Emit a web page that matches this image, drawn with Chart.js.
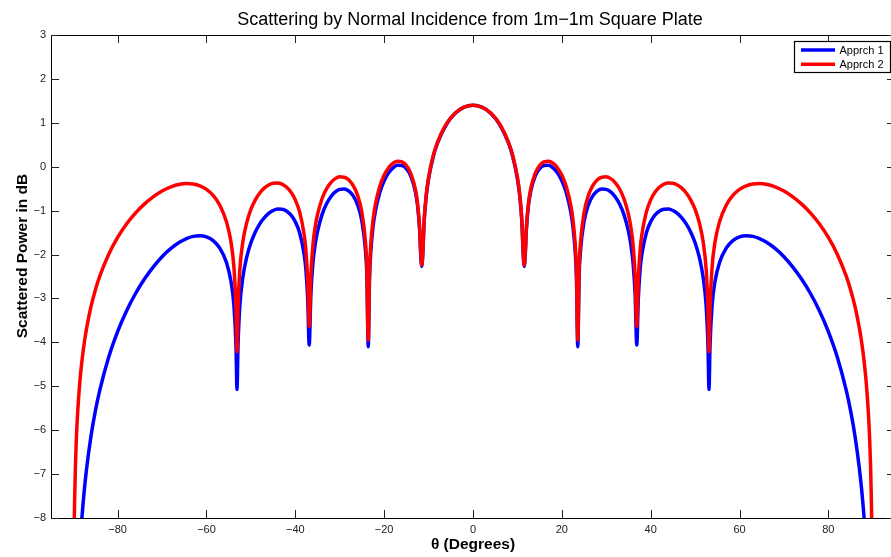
<!DOCTYPE html>
<html>
<head>
<meta charset="utf-8">
<script src="https://cdn.jsdelivr.net/npm/chart.js@4.4.1/dist/chart.umd.min.js"></script>
<style>
	html, body { margin: 0; padding: 0; background: #fff; overflow: hidden; }
	canvas { display: block; }
</style>
</head>
<body>
<canvas id="plateChart" width="905" height="557"></canvas>
<script>
// Values (theta in degrees, power in dB)
const theta = [
	-89.8, -89.7, -89.5, -89.3, -89, -88.5, -88, -87.5, -87, -86,
	-85, -84, -82, -80, -78, -76, -74, -72, -70, -68,
	-66, -64.5, -63, -61.5, -60, -58.5, -57, -55.5, -54.5, -53.8,
	-53.35, -53.13, -52.9, -52.5, -51.8, -51, -50, -49, -48, -47,
	-46, -45, -44, -43, -42, -41, -40, -39, -38, -37.6,
	-37.2, -36.87, -36.5, -36, -35.5, -35, -34, -33, -32, -31,
	-30, -29, -28, -27, -26, -25, -24.2, -23.9, -23.58, -23.3,
	-23, -22.5, -22, -21, -20, -19, -18, -17, -16, -15,
	-14, -13, -12.5, -12, -11.8, -11.54, -11.3, -11, -10.5, -10,
	-9, -8, -6, -4, -2,
	0,
	2, 4, 6, 8, 9, 10, 10.5, 11, 11.3, 11.54,
	11.8, 12, 12.5, 13, 14, 15, 16, 17, 18, 19,
	20, 21, 22, 22.5, 23, 23.3, 23.58, 23.9, 24.2, 25,
	26, 27, 28, 29, 30, 31, 32, 33, 34, 35,
	35.5, 36, 36.5, 36.87, 37.2, 37.6, 38, 39, 40, 41,
	42, 43, 44, 45, 46, 47, 48, 49, 50, 51,
	51.8, 52.5, 52.9, 53.13, 53.35, 53.8, 54.5, 55.5, 57, 58.5,
	60, 61.5, 63, 64.5, 66, 68, 70, 72, 74, 76,
	78, 80, 82, 84, 85, 86, 87, 87.5, 88, 88.5,
	89, 89.3, 89.5, 89.7, 89.8
];

const apprch1 = [
	-13.94, -12.89, -11.56, -10.68, -9.75, -8.69, -7.944, -7.362, -6.888, -6.137,
	-5.555, -5.081, -4.331, -3.753, -3.283, -2.893, -2.563, -2.285, -2.051, -1.861,
	-1.715, -1.636, -1.587, -1.572, -1.600, -1.684, -1.854, -2.182, -2.601, -3.188,
	-4.101, -5.07, -4.075, -3.187, -2.514, -2.084, -1.732, -1.484, -1.300, -1.163,
	-1.063, -0.998, -0.965, -0.967, -1.008, -1.096, -1.252, -1.514, -2.005, -2.364,
	-3.037, -4.06, -2.912, -2.154, -1.749, -1.472, -1.097, -0.851, -0.683, -0.574,
	-0.515, -0.505, -0.548, -0.657, -0.862, -1.247, -1.915, -2.472, -4.10, -2.573,
	-1.925, -1.368, -1.026, -0.592, -0.319, -0.138, -0.025, 0.031, 0.028, -0.044,
	-0.212, -0.555, -0.870, -1.460, -1.934, -2.27, -1.987, -1.253, -0.648, -0.276,
	0.210, 0.536, 0.962, 1.217, 1.356,
	1.400,
	1.356, 1.217, 0.962, 0.536, 0.210, -0.276, -0.648, -1.253, -1.987, -2.27,
	-1.934, -1.460, -0.870, -0.555, -0.212, -0.044, 0.028, 0.031, -0.025, -0.138,
	-0.319, -0.592, -1.026, -1.368, -1.925, -2.573, -4.10, -2.472, -1.915, -1.247,
	-0.862, -0.657, -0.548, -0.505, -0.515, -0.574, -0.683, -0.851, -1.097, -1.472,
	-1.749, -2.154, -2.912, -4.06, -3.037, -2.364, -2.005, -1.514, -1.252, -1.096,
	-1.008, -0.967, -0.965, -0.998, -1.063, -1.163, -1.300, -1.484, -1.732, -2.084,
	-2.514, -3.187, -4.075, -5.07, -4.101, -3.188, -2.601, -2.182, -1.854, -1.684,
	-1.600, -1.572, -1.587, -1.636, -1.715, -1.861, -2.051, -2.285, -2.563, -2.893,
	-3.283, -3.753, -4.331, -5.081, -5.555, -6.137, -6.888, -7.362, -7.944, -8.69,
	-9.75, -10.68, -11.56, -12.89, -13.94
];

const apprch2 = [
	-8.39, -7.69, -6.80, -6.214, -5.595, -4.889, -4.391, -4.003, -3.687, -3.188,
	-2.800, -2.486, -1.991, -1.611, -1.306, -1.058, -0.852, -0.686, -0.554, -0.458,
	-0.399, -0.383, -0.393, -0.435, -0.517, -0.655, -0.876, -1.253, -1.705, -2.314,
	-3.241, -4.21, -3.229, -2.353, -1.701, -1.296, -0.973, -0.754, -0.598, -0.488,
	-0.416, -0.377, -0.370, -0.397, -0.463, -0.577, -0.756, -1.041, -1.555, -1.924,
	-2.605, -3.64, -2.496, -1.749, -1.355, -1.088, -0.734, -0.508, -0.360, -0.271,
	-0.230, -0.238, -0.298, -0.424, -0.646, -1.047, -1.728, -2.289, -3.95, -2.399,
	-1.755, -1.206, -0.871, -0.450, -0.190, -0.022, 0.080, 0.124, 0.110, 0.029,
	-0.149, -0.500, -0.819, -1.413, -1.889, -2.24, -1.945, -1.214, -0.612, -0.243,
	0.236, 0.557, 0.974, 1.222, 1.357,
	1.400,
	1.357, 1.222, 0.974, 0.557, 0.236, -0.243, -0.612, -1.214, -1.945, -2.24,
	-1.889, -1.413, -0.819, -0.500, -0.149, 0.029, 0.110, 0.124, 0.080, -0.022,
	-0.190, -0.450, -0.871, -1.206, -1.755, -2.399, -3.95, -2.289, -1.728, -1.047,
	-0.646, -0.424, -0.298, -0.238, -0.230, -0.271, -0.360, -0.508, -0.734, -1.088,
	-1.355, -1.749, -2.496, -3.64, -2.605, -1.924, -1.555, -1.041, -0.756, -0.577,
	-0.463, -0.397, -0.370, -0.377, -0.416, -0.488, -0.598, -0.754, -0.973, -1.296,
	-1.701, -2.353, -3.229, -4.21, -3.241, -2.314, -1.705, -1.253, -0.876, -0.655,
	-0.517, -0.435, -0.393, -0.383, -0.399, -0.458, -0.554, -0.686, -0.852, -1.058,
	-1.306, -1.611, -1.991, -2.486, -2.800, -3.188, -3.687, -4.003, -4.391, -4.889,
	-5.595, -6.214, -6.80, -7.69, -8.39
];

const xTicks = [-80, -60, -40, -20, 0, 20, 40, 60, 80];
const yTicks = [-8, -7, -6, -5, -4, -3, -2, -1, 0, 1, 2, 3];

const FONT = "'Liberation Sans', Arial, Helvetica, sans-serif";

function toPoints(values) {
	return theta.map((t, i) => ({ x: t, y: values[i] }));
}

function minusSign(v) {
	return String(v).replace('-', '\u2212');
}

// Box round the axes, inward ticks, titles and the boxed legend (MATLAB style)
const matlabFrame = {
	id: 'matlabFrame',
	afterDraw(chart) {
		const ctx = chart.ctx;
		const a = chart.chartArea;
		const xs = chart.scales.x;
		const ys = chart.scales.y;
		const tick = 8;

		ctx.save();
		ctx.strokeStyle = '#000';
		ctx.lineWidth = 1;
		ctx.strokeRect(a.left + 0.5, a.top + 0.5, a.right - a.left, a.bottom - a.top);

		ctx.strokeStyle = '#222';
		ctx.beginPath();
		xTicks.forEach((v) => {
			const px = Math.round(xs.getPixelForValue(v)) + 0.5;
			ctx.moveTo(px, a.bottom);
			ctx.lineTo(px, a.bottom - tick);
			ctx.moveTo(px, a.top);
			ctx.lineTo(px, a.top + tick);
		});
		yTicks.forEach((v) => {
			const py = Math.round(ys.getPixelForValue(v)) + 0.5;
			ctx.moveTo(a.left, py);
			ctx.lineTo(a.left + tick, py);
			ctx.moveTo(a.right, py);
			ctx.lineTo(a.right - tick, py);
		});
		ctx.stroke();

		// title and axis labels
		ctx.fillStyle = '#000';
		ctx.textAlign = 'center';
		ctx.textBaseline = 'alphabetic';
		ctx.font = '18px ' + FONT;
		ctx.fillText('Scattering by Normal Incidence from 1m\u22121m Square Plate', 470, 25);

		ctx.font = 'bold 15.5px ' + FONT;
		ctx.fillText('\u03b8 (Degrees)', (a.left + a.right) / 2, 548.5);

		ctx.save();
		ctx.translate(26.5, 256);
		ctx.rotate(-Math.PI / 2);
		ctx.fillText('Scattered Power in dB', 0, 0);
		ctx.restore();

		// legend
		const lx = 794, ly = 41, lw = 96, lh = 31;
		ctx.fillStyle = '#fff';
		ctx.fillRect(lx, ly, lw, lh);
		ctx.strokeStyle = '#000';
		ctx.lineWidth = 1.2;
		ctx.strokeRect(lx + 0.5, ly + 0.5, lw, lh);

		ctx.font = '11px ' + FONT;
		ctx.textAlign = 'left';
		ctx.textBaseline = 'middle';
		chart.data.datasets.forEach((ds, i) => {
			const yy = 50 + i * 14.3;
			ctx.strokeStyle = ds.borderColor;
			ctx.lineWidth = 3.5;
			ctx.beginPath();
			ctx.moveTo(801, yy);
			ctx.lineTo(835, yy);
			ctx.stroke();
			ctx.fillStyle = '#000';
			ctx.fillText(ds.label, 839.5, yy + 0.5);
		});
		ctx.restore();
	},
};

new Chart(document.getElementById('plateChart'), {
	type: 'line',
	data: {
		datasets: [
			{
				label: 'Apprch 1',
				data: toPoints(apprch1),
				borderColor: '#0000ff',
				borderWidth: 3.5,
				order: 2,
			},
			{
				label: 'Apprch 2',
				data: toPoints(apprch2),
				borderColor: '#ff0000',
				borderWidth: 3.5,
				order: 1,
			},
		],
	},
	options: {
		responsive: false,
		animation: false,
		devicePixelRatio: 1,
		layout: { padding: { top: 35, right: 10, left: 0, bottom: 0 } },
		elements: {
			point: { radius: 0 },
			line: { cubicInterpolationMode: 'monotone', borderCapStyle: 'round', borderJoinStyle: 'round', fill: false },
		},
		plugins: {
			legend: { display: false },
			title: { display: false },
			tooltip: { enabled: false },
		},
		scales: {
			x: {
				type: 'linear',
				min: -95,
				max: 95,
				grid: { display: false, drawTicks: false },
				border: { display: false },
				afterBuildTicks: (axis) => { axis.ticks = xTicks.map((v) => ({ value: v })); },
				afterFit: (axis) => { axis.height = 39; },
				ticks: {
					padding: 5,
					color: '#222',
					font: { family: FONT, size: 11 },
					callback: (v) => minusSign(v),
				},
			},
			y: {
				type: 'linear',
				min: -8,
				max: 3,
				grid: { display: false, drawTicks: false },
				border: { display: false },
				afterBuildTicks: (axis) => { axis.ticks = yTicks.map((v) => ({ value: v })); },
				afterFit: (axis) => { axis.width = 51; },
				ticks: {
					padding: 5,
					color: '#222',
					font: { family: FONT, size: 11 },
					callback: (v) => minusSign(v),
				},
			},
		},
	},
	plugins: [matlabFrame],
});
</script>
</body>
</html>
